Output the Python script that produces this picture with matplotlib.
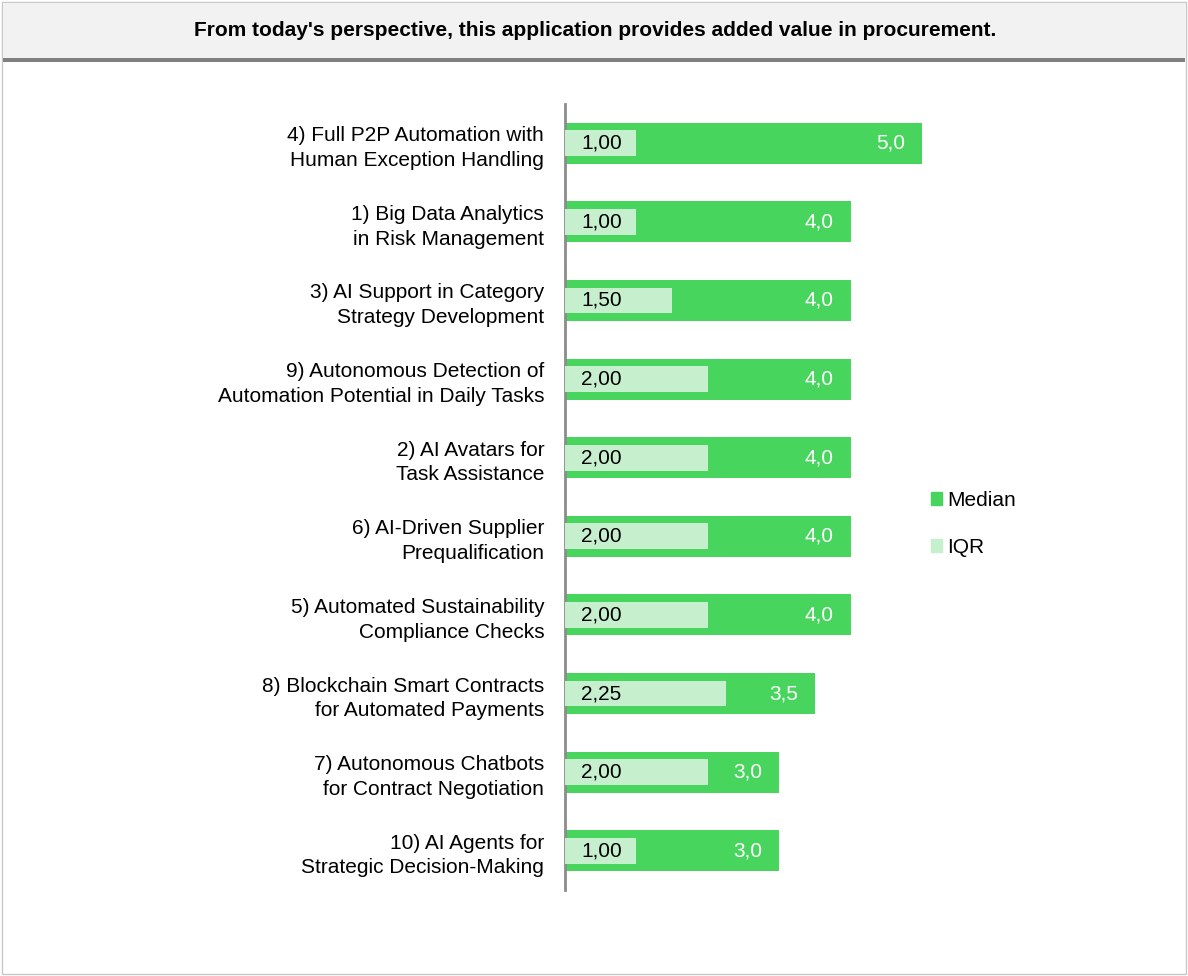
import matplotlib.pyplot as plt
from matplotlib.patches import Patch, Rectangle

plt.rcParams['font.family'] = ['Liberation Sans', 'DejaVu Sans']

title = "From today's perspective, this application provides added value in procurement."

labels = [
    "4) Full P2P Automation with\nHuman Exception Handling",
    "1) Big Data Analytics\nin Risk Management",
    "3) AI Support in Category\nStrategy Development",
    "9) Autonomous Detection of\nAutomation Potential in Daily Tasks",
    "2) AI Avatars for\nTask Assistance",
    "6) AI-Driven Supplier\nPrequalification",
    "5) Automated Sustainability\nCompliance Checks",
    "8) Blockchain Smart Contracts\nfor Automated Payments",
    "7) Autonomous Chatbots\nfor Contract Negotiation",
    "10) AI Agents for\nStrategic Decision-Making",
]
median = [5.0, 4.0, 4.0, 4.0, 4.0, 4.0, 4.0, 3.5, 3.0, 3.0]
iqr = [1.00, 1.00, 1.50, 2.00, 2.00, 2.00, 2.00, 2.25, 2.00, 1.00]

c_median = '#48D55E'
c_iqr = '#C6EFCE'
fs = 15

W, H = 1188, 976
fig = plt.figure(figsize=(W / 100, H / 100), dpi=100)

# frame and header band
fig.patches.append(Rectangle((2 / W, 2 / H), 1184 / W, 972 / H, transform=fig.transFigure,
                             fill=False, edgecolor='#c8c8c8', linewidth=1))
fig.patches.append(Rectangle((3 / W, (H - 58) / H), 1182 / W, 55 / H, transform=fig.transFigure,
                             facecolor='#f2f2f2', edgecolor='none'))
fig.patches.append(Rectangle((3 / W, (H - 62) / H), 1182 / W, 4 / H, transform=fig.transFigure,
                             facecolor='#808080', edgecolor='none'))
fig.text(595 / W, (H - 31) / H, title, ha='center', va='center', fontsize=fs,
         fontweight='bold', color='black')

scale = 71.4
xmax = 5.5
ax = fig.add_axes([565 / W, (H - 890) / H, xmax * scale / W, 786 / H])
ypos = list(range(len(labels)))
ax.barh(ypos, median, height=0.52, color=c_median, zorder=2)
ax.barh(ypos, iqr, height=0.33, color=c_iqr, zorder=3)
ax.set_xlim(0, xmax)
ax.set_ylim(len(labels) - 0.5, -0.5)

for y, m, q in zip(ypos, median, iqr):
    ax.annotate(f"{q:.2f}".replace('.', ','), (0, y), xytext=(11.5, 0), textcoords='offset points',
                ha='left', va='center', fontsize=fs, color='black', zorder=4)
    ax.annotate(f"{m:.1f}".replace('.', ','), (m, y), xytext=(-12, 0), textcoords='offset points',
                ha='right', va='center', fontsize=fs, color='white', zorder=4)

ax.set_yticks(ypos)
ax.set_yticklabels(labels, fontsize=fs, linespacing=1.38)
for t in ax.get_yticklabels():
    t.set_y(t.get_position()[1])
ax.tick_params(axis='y', length=0, pad=15)
ax.set_xticks([])
for s in ['top', 'right', 'bottom']:
    ax.spines[s].set_visible(False)
ax.spines['left'].set_color('#8c8c8c')
ax.spines['left'].set_linewidth(2)

handles = [Patch(color=c_median, label='Median'), Patch(color=c_iqr, label='IQR')]
fig.legend(handles=handles, loc='center left', bbox_to_anchor=(912 / W, (H - 524) / H),
           frameon=False, fontsize=fs, handlelength=0.55, handleheight=0.55,
           handletextpad=0.25, labelspacing=1.35)

fig.savefig('out.png', dpi=100)
